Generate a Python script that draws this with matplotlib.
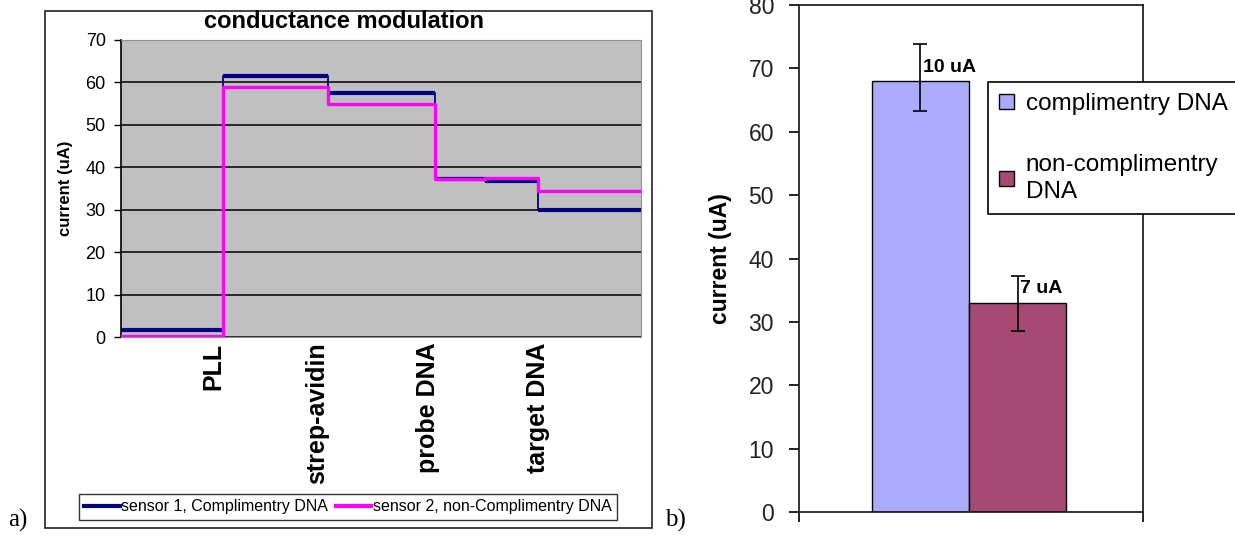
"""
Two-panel figure: a) conductance modulation steps for two sensors,
b) final current for complementary vs non-complementary DNA.
"""

import matplotlib
matplotlib.use("Agg")
import matplotlib.pyplot as plt
from matplotlib.patches import Rectangle
from matplotlib.lines import Line2D

NARROW = ["Liberation Sans Narrow", "Liberation Sans", "DejaVu Sans"]
ARIAL = ["Liberation Sans", "DejaVu Sans"]
SERIF = ["Liberation Serif", "DejaVu Serif"]

# ---------------------------------------------------------------- data, panel a
# step edges on an arbitrary 0..100 time axis, value holds until the next edge
t_edges = [0, 19.7, 39.8, 60.3, 70.0, 80.1, 100]
sensor1 = [1.6, 61.4, 57.4, 37.3, 36.8, 30.0, 30.0]
sensor2 = [0.3, 58.9, 54.8, 37.2, 37.5, 34.3, 34.3]
stage_pos = [17.7, 37.7, 59.0, 80.2]
stage_labels = ["PLL", "strep-avidin", "probe DNA", "target DNA"]
series_labels = ["sensor 1, Complimentry DNA", "sensor 2, non-Complimentry DNA"]

# ---------------------------------------------------------------- data, panel b
bar_labels = ["complimentry DNA", "non-complimentry\nDNA"]
bar_values = [68.0, 33.0]
err_low = [4.8, 4.4]
err_high = [5.8, 4.2]
bar_notes = ["10 uA", "7 uA"]
bar_colors = ["#AAAAFF", "#A64A74"]

W, H = 1235, 535
fig = plt.figure(figsize=(W / 100, H / 100), dpi=100)


def fx(px):
    return px / W


def fy(py):
    return 1 - py / H


# ---------------------------------------------------------------- panel a
fig.patches.append(Rectangle((fx(45), fy(528)), fx(652) - fx(45), fy(11) - fy(528),
                             transform=fig.transFigure, fill=False,
                             edgecolor="#222222", lw=1.2))

axA = fig.add_axes([fx(121), fy(337), fx(641) - fx(121), fy(40) - fy(337)])
axA.set_facecolor("#C0C0C0")
axA.step(t_edges, sensor1, where="post", color="#000080", lw=1.3, zorder=3)
axA.hlines(sensor1[:-1], t_edges[:-1], t_edges[1:], color="#000080", lw=3.0, zorder=3)
axA.step(t_edges, sensor2, where="post", color="#FF00FF", lw=2.4, zorder=4)

axA.set_xlim(0, 100)
axA.set_ylim(0, 70)
axA.set_yticks(range(0, 71, 10))
axA.yaxis.grid(True, color="black", lw=1.1)
axA.set_axisbelow(True)
axA.set_xticks(stage_pos)
axA.set_xticklabels(stage_labels, rotation=90, fontsize=18, fontweight="bold",
                    family=ARIAL, va="top", ha="center")
axA.tick_params(axis="x", length=0, pad=4)
axA.tick_params(axis="y", length=5, width=1, pad=6, labelsize=13, direction="out")
for lab in axA.get_yticklabels():
    lab.set_family(NARROW)
axA.spines["left"].set_color("black")
axA.spines["left"].set_linewidth(1.2)
for s in ("top", "right", "bottom"):
    axA.spines[s].set_color("#909090")
axA.set_ylabel("current (uA)", fontsize=12, fontweight="bold", family=ARIAL)
axA.yaxis.set_label_coords(-0.092, 0.5)

fig.text(fx(344), fy(22), "conductance modulation", ha="center", va="center",
         fontsize=17, fontweight="bold", family=NARROW)

handles = [Line2D([], [], color="#000080", lw=3), Line2D([], [], color="#FF00FF", lw=3)]
legA = fig.legend(handles, series_labels, loc="center", ncol=2,
                  bbox_to_anchor=(fx(348), fy(507)), prop={"family": NARROW, "size": 11.5},
                  frameon=True, fancybox=False, edgecolor="black", handlelength=2.2,
                  handletextpad=0.1, columnspacing=0.5, borderpad=0.35)
legA.get_frame().set_linewidth(1.0)

fig.text(fx(8), fy(520), "a)", ha="left", va="center", fontsize=18, family=SERIF)
fig.text(fx(665), fy(520), "b)", ha="left", va="center", fontsize=18, family=SERIF)

# ---------------------------------------------------------------- panel b
axB = fig.add_axes([fx(799), fy(512), fx(1143) - fx(799), fy(5) - fy(512)])
xpos = [-0.5, 0.5]
bars = axB.bar(xpos, bar_values, width=1.0, color=bar_colors, edgecolor="black",
               lw=1.0, zorder=2)
axB.errorbar(xpos, bar_values, yerr=[err_low, err_high], fmt="none", ecolor="black",
             elinewidth=1.2, capsize=5, capthick=1.2, zorder=3)
for x, v, note in zip(xpos, bar_values, bar_notes):
    axB.annotate(note, xy=(x, v + 2.2), xytext=(1.5, 0), textcoords="offset points",
                 ha="left", va="center", fontsize=14, fontweight="bold", family=ARIAL)

axB.set_xlim(-1.75, 1.79)
axB.set_ylim(0, 80)
axB.set_yticks(range(0, 81, 10))
axB.set_xticks([-1.75, 1.79])
axB.set_xticklabels(["", ""])
axB.tick_params(axis="y", length=7, width=1.2, pad=11, labelsize=16.5,
                labelcolor="#222222", direction="out")
axB.tick_params(axis="x", length=7, width=1.2, direction="out")
for lab in axB.get_yticklabels():
    lab.set_family(ARIAL)
for s in axB.spines.values():
    s.set_linewidth(1.2)
    s.set_color("#111111")
axB.set_ylabel("current (uA)", fontsize=16.5, fontweight="bold", family=ARIAL)
axB.yaxis.set_label_coords(-0.195, 0.5)

legB = axB.legend(bars, bar_labels, loc="upper left", bbox_to_anchor=(fx(988), fy(82)),
                  bbox_transform=fig.transFigure, prop={"family": ARIAL, "size": 17.5},
                  frameon=True, fancybox=False, edgecolor="black", framealpha=1,
                  handlelength=0.6, handleheight=0.6, handletextpad=0.5,
                  labelspacing=1.6, borderpad=0.45, borderaxespad=0)
legB.get_frame().set_linewidth(1.2)
for t in legB.get_texts():
    t.set_linespacing(1.3)

fig.savefig("out.png", dpi=100)
